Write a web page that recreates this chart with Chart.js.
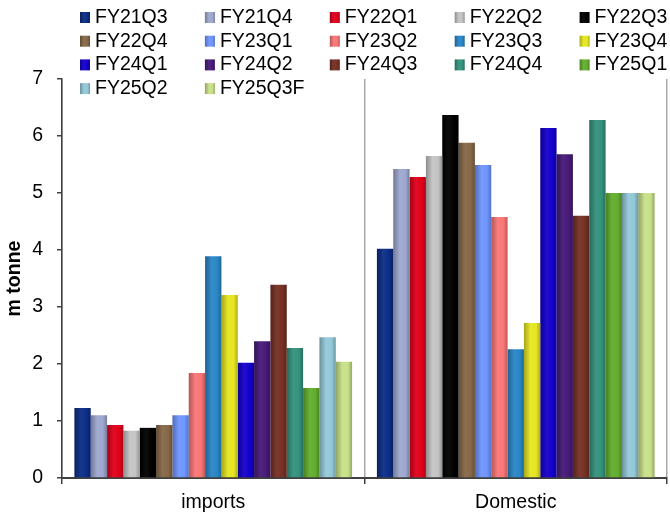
<!DOCTYPE html>
<html>
<head>
<meta charset="utf-8">
<script src="https://cdn.jsdelivr.net/npm/chart.js@4/dist/chart.umd.min.js"></script>
<style>
  html, body { margin: 0; padding: 0; background: #fff; }
  canvas { display: block; }
</style>
</head>
<body>
<canvas id="c" width="670" height="516"></canvas>
<script>
const categories = ['imports', 'Domestic'];
const seriesNames = ['FY21Q3','FY21Q4','FY22Q1','FY22Q2','FY22Q3','FY22Q4','FY23Q1','FY23Q2','FY23Q3','FY23Q4','FY24Q1','FY24Q2','FY24Q3','FY24Q4','FY25Q1','FY25Q2','FY25Q3F'];
const importsValues  = [1.23, 1.10, 0.93, 0.83, 0.88, 0.93, 1.10, 1.84, 3.89, 3.21, 2.02, 2.40, 3.39, 2.28, 1.58, 2.47, 2.04];
const domesticValues = [4.02, 5.42, 5.28, 5.65, 6.37, 5.88, 5.49, 4.58, 2.26, 2.72, 6.14, 5.68, 4.60, 6.28, 5.00, 5.00, 5.00];
const seriesColors = ['#0b2d86','#9ea8d0','#e2001a','#c4c4c4','#000000','#876848','#6f95ff','#fa7676','#2a86c6','#e6e622','#1400cc','#471a78','#763024','#34927c','#62ae2e','#94c8d8','#c8e088'];
const yTicks = [0, 1, 2, 3, 4, 5, 6, 7];

const FONT = '"Liberation Sans", Arial, Helvetica, sans-serif';

function shade(hex, amt) {
  const n = parseInt(hex.slice(1), 16);
  let r = (n >> 16) & 255, g = (n >> 8) & 255, b = n & 255;
  const f = c => amt < 0 ? Math.round(c * (1 + amt)) : Math.round(c + (255 - c) * amt);
  r = f(r); g = f(g); b = f(b);
  return 'rgb(' + r + ',' + g + ',' + b + ')';
}
function barGradient(ctx, x0, w, color) {
  const g = ctx.createLinearGradient(x0, 0, x0 + w, 0);
  g.addColorStop(0, shade(color, -0.28));
  g.addColorStop(0.4, shade(color, 0.05));
  g.addColorStop(0.75, color);
  g.addColorStop(1, shade(color, -0.25));
  return g;
}

const datasets = seriesNames.map((name, i) => ({
  label: name,
  data: [importsValues[i], domesticValues[i]],
  backgroundColor: (c) => {
    const el = c.element;
    const col = seriesColors[i];
    if (!el || !isFinite(el.x) || !isFinite(el.width)) return col;
    return barGradient(c.chart.ctx, el.x - el.width / 2, el.width, col);
  },
  borderWidth: 0
}));

const gridLegend = {
  id: 'gridLegend',
  afterDraw(chart) {
    const ctx = chart.ctx;
    ctx.save();
    ctx.font = '19.5px ' + FONT;
    ctx.textAlign = 'left';
    ctx.textBaseline = 'middle';
    seriesNames.forEach((name, i) => {
      const col = i % 5, row = Math.floor(i / 5);
      const x = 80 + col * 124.9;
      const y = 17.5 + row * 23.7;
      ctx.fillStyle = barGradient(ctx, x, 10, seriesColors[i]);
      ctx.fillRect(x, y - 5.5, 10, 11);
      ctx.fillStyle = '#000';
      ctx.fillText(name, x + 15, y);
    });
    ctx.restore();
  }
};

const chart = new Chart(document.getElementById('c'), {
  type: 'bar',
  data: { labels: categories, datasets },
  options: {
    responsive: false,
    animation: false,
    layout: { padding: { top: 79, right: 3, left: 0, bottom: 0 } },
    datasets: { bar: { categoryPercentage: 0.918, barPercentage: 1.0 } },
    plugins: { legend: { display: false }, tooltip: { enabled: false } },
    scales: {
      x: {
        offset: true,
        grid: { offset: true, color: '#a8a8a8', lineWidth: 1.5, tickLength: 6, tickColor: '#404040', tickWidth: 1.5 },
        border: { color: '#404040', width: 2 },
        ticks: { font: { family: FONT, size: 19.5 }, color: '#000', padding: 7 },
        afterFit: (s) => { s.height = 38; }
      },
      y: {
        min: 0, max: 7,
        afterBuildTicks: (s) => { s.ticks = yTicks.map(v => ({ value: v })); },
        ticks: { font: { family: FONT, size: 19.5 }, color: '#000', padding: 14 },
        grid: { drawOnChartArea: false, tickLength: 5, color: '#404040', lineWidth: 1.5 },
        border: { color: '#404040', width: 1.5 },
        title: { display: true, text: 'm tonne', color: '#000', font: { family: FONT, size: 19.5, weight: 'bold' }, padding: { top: 3, bottom: 0 } },
        afterFit: (s) => { s.width = 62; }
      }
    }
  },
  plugins: [gridLegend]
});
chart.update('none');
</script>
</body>
</html>
